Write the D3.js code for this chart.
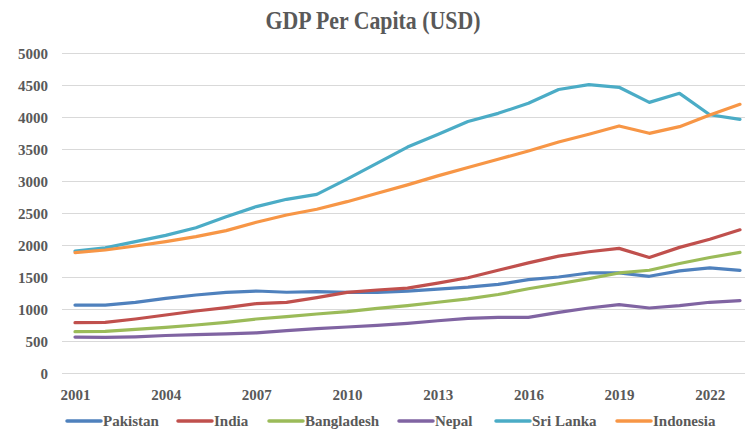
<!DOCTYPE html>
<html>
<head>
<meta charset="utf-8">
<script src="https://cdn.jsdelivr.net/npm/d3@7"></script>
<style>
  html, body { margin: 0; padding: 0; background: #fff; }
  svg { display: block; }
  text { font-family: "Liberation Serif", "Times New Roman", serif; font-weight: bold; fill: #595959; }
</style>
</head>
<body>
<svg id="chart" width="745" height="433"></svg>
<script>
// GDP per capita, USD, 2001-2023
const years = d3.range(2001, 2024);
const tickYears = [2001, 2004, 2007, 2010, 2013, 2016, 2019, 2022];
const yTicks = [0, 500, 1000, 1500, 2000, 2500, 3000, 3500, 4000, 4500, 5000];

const pakistan   = [1062, 1062, 1104, 1167, 1219, 1260, 1281, 1262, 1271, 1260, 1260, 1279, 1311, 1342, 1384, 1458, 1500, 1563, 1563, 1511, 1595, 1642, 1605];
const india      = [786, 790, 844, 906, 969, 1021, 1083, 1104, 1177, 1260, 1297, 1326, 1405, 1489, 1605, 1721, 1826, 1895, 1947, 1805, 1963, 2089, 2237];
const bangladesh = [646, 650, 682, 714, 750, 792, 844, 880, 922, 958, 1010, 1053, 1105, 1158, 1226, 1316, 1395, 1474, 1563, 1605, 1711, 1805, 1884];
const nepal      = [562, 556, 566, 586, 600, 612, 628, 661, 693, 719, 745, 776, 816, 853, 868, 868, 947, 1016, 1068, 1016, 1053, 1105, 1132];
const sriLanka   = [1906, 1955, 2052, 2150, 2270, 2440, 2600, 2714, 2792, 3030, 3280, 3530, 3725, 3930, 4057, 4214, 4430, 4505, 4464, 4229, 4370, 4035, 3964];
const indonesia  = [1880, 1922, 1984, 2052, 2130, 2224, 2355, 2469, 2558, 2677, 2808, 2940, 3080, 3210, 3340, 3470, 3610, 3730, 3860, 3745, 3849, 4031, 4198];

const seriesNames  = ["Pakistan", "India", "Bangladesh", "Nepal", "Sri Lanka", "Indonesia"];
const seriesValues = [pakistan, india, bangladesh, nepal, sriLanka, indonesia];
const seriesColors = ["#4F81BD", "#C0504D", "#9BBB59", "#8064A2", "#4BACC6", "#F79646"];

const svg = d3.select("#chart");
const plot = { left: 62, right: 745, top: 53, bottom: 373 };

const x = d3.scalePoint().domain(years).range([75, 740]);
const y = d3.scaleLinear().domain([0, 5000]).range([plot.bottom, plot.top]);

// Title
svg.append("text")
  .attr("transform", "translate(373,29) scale(0.84,1)")
  .attr("text-anchor", "middle")
  .style("font-size", "26px")
  .text("GDP Per Capita (USD)");

// Horizontal gridlines with value labels
const yAxis = d3.axisLeft(y).tickValues(yTicks).tickFormat(d3.format("d"))
  .tickSize(-(plot.right - plot.left)).tickPadding(14);
const gy = svg.append("g").attr("transform", `translate(${plot.left},0)`).call(yAxis);
gy.select(".domain").remove();
gy.selectAll(".tick line").attr("stroke", "#d9d9d9").attr("stroke-width", 1);
gy.selectAll(".tick text").style("font-size", "15px").attr("fill", "#595959")
  .attr("font-family", null).attr("dy", "0.35em");

// Category axis labels
const xAxis = d3.axisBottom(x).tickValues(tickYears).tickSize(0).tickPadding(16).tickFormat(d3.format("d"));
const gx = svg.append("g").attr("transform", `translate(0,${plot.bottom})`).call(xAxis);
gx.select(".domain").remove();
gx.selectAll(".tick text").style("font-size", "15px").attr("fill", "#595959").attr("font-family", null);

// Series lines
const line = d3.line().x((d, i) => x(years[i])).y(d => y(d));
seriesValues.forEach((vals, k) => {
  svg.append("path")
    .datum(vals)
    .attr("fill", "none")
    .attr("stroke", seriesColors[k])
    .attr("stroke-width", 3.2)
    .attr("stroke-linejoin", "round")
    .attr("stroke-linecap", "round")
    .attr("d", line);
});

// Legend
const legendX = [67, 178, 269, 399, 496, 617];
const legend = svg.append("g").attr("transform", "translate(0,421)");
seriesNames.forEach((name, k) => {
  const g = legend.append("g").attr("transform", `translate(${legendX[k]},0)`);
  g.append("line").attr("x1", 0).attr("x2", 34).attr("y1", 0).attr("y2", 0)
    .attr("stroke", seriesColors[k]).attr("stroke-width", 3.5).attr("stroke-linecap", "round");
  g.append("text").attr("x", 36).attr("y", 0).attr("dy", "0.35em")
    .style("font-size", "15px").text(name);
});
</script>
</body>
</html>
